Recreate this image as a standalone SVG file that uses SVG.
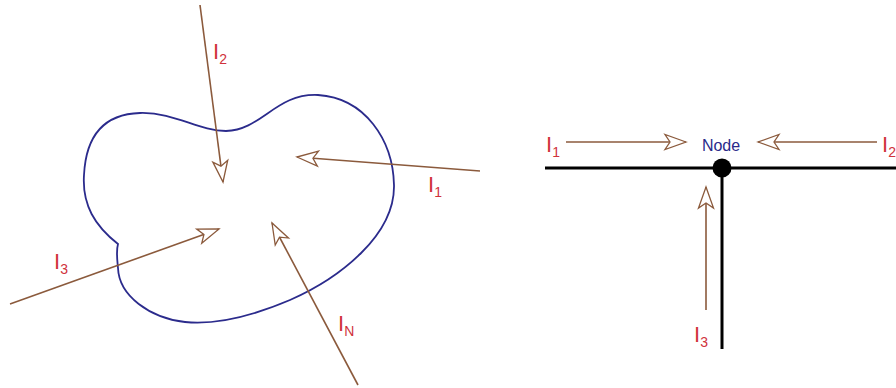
<svg xmlns="http://www.w3.org/2000/svg" width="896" height="388" viewBox="0 0 896 388">
<style>
.lbl{font-family:"Liberation Sans",Arial,sans-serif;font-size:22px;fill:#d0323c}
.sub{font-size:14px}
.cur{stroke:#8b5a3c;stroke-width:1.6;fill:none}
.wire{stroke:#000;stroke-width:3;fill:none}
</style>
<defs>
<marker id="ah" markerWidth="26" markerHeight="20" refX="23" refY="10" orient="auto" markerUnits="userSpaceOnUse" viewBox="0 0 26 20">
<path d="M23,10 L2,2.5 L7,10 L2,17.5 Z" fill="#fff" stroke="#8b5a3c" stroke-width="1.3" stroke-linejoin="miter"/>
</marker>
</defs>
<g id="region">
<path d="M118,244 C95,226 82,205 84,175 C86,135 105,114 140,113 C175,112 198,131 226,131 C262,130 276,93 318,95 C365,98 393,140 394,185 C395,235 340,278 290,300 C250,317 215,325 185,322 C150,318 119,296 118,268 C117,258 116,251 118,244 Z" fill="none" stroke="#2b2b8c" stroke-width="1.8"/>
</g>
<g id="node">
<circle cx="722" cy="168" r="9.5" fill="#000"/>
<text x="721" y="151" text-anchor="middle" style="font-family:'Liberation Sans',Arial,sans-serif;font-size:16px;fill:#2a2a8a">Node</text>
</g>
<g id="connectors">
<line class="cur" x1="200" y1="5" x2="223" y2="182" marker-end="url(#ah)"/>
<line class="cur" x1="480" y1="171" x2="297" y2="157" marker-end="url(#ah)"/>
<line class="cur" x1="10" y1="304" x2="219" y2="229" marker-end="url(#ah)"/>
<line class="cur" x1="358" y1="385" x2="272" y2="223" marker-end="url(#ah)"/>
<line class="wire" x1="545" y1="168" x2="896" y2="168"/>
<line class="wire" x1="722" y1="168" x2="722" y2="349"/>
<line class="cur" x1="566" y1="142" x2="686" y2="142" marker-end="url(#ah)"/>
<line class="cur" x1="877" y1="142" x2="758" y2="142" marker-end="url(#ah)"/>
<line class="cur" x1="706" y1="310" x2="706" y2="187" marker-end="url(#ah)"/>
</g>
<g id="labels">
<text class="lbl" x="213" y="59">I<tspan class="sub" dy="5">2</tspan></text>
<text class="lbl" x="428" y="192">I<tspan class="sub" dy="5">1</tspan></text>
<text class="lbl" x="54" y="269">I<tspan class="sub" dy="5">3</tspan></text>
<text class="lbl" x="338" y="331">I<tspan class="sub" dy="5">N</tspan></text>
<text class="lbl" x="546" y="152">I<tspan class="sub" dy="5">1</tspan></text>
<text class="lbl" x="882" y="152">I<tspan class="sub" dy="5">2</tspan></text>
<text class="lbl" x="694" y="342">I<tspan class="sub" dy="5">3</tspan></text>
</g>
</svg>
